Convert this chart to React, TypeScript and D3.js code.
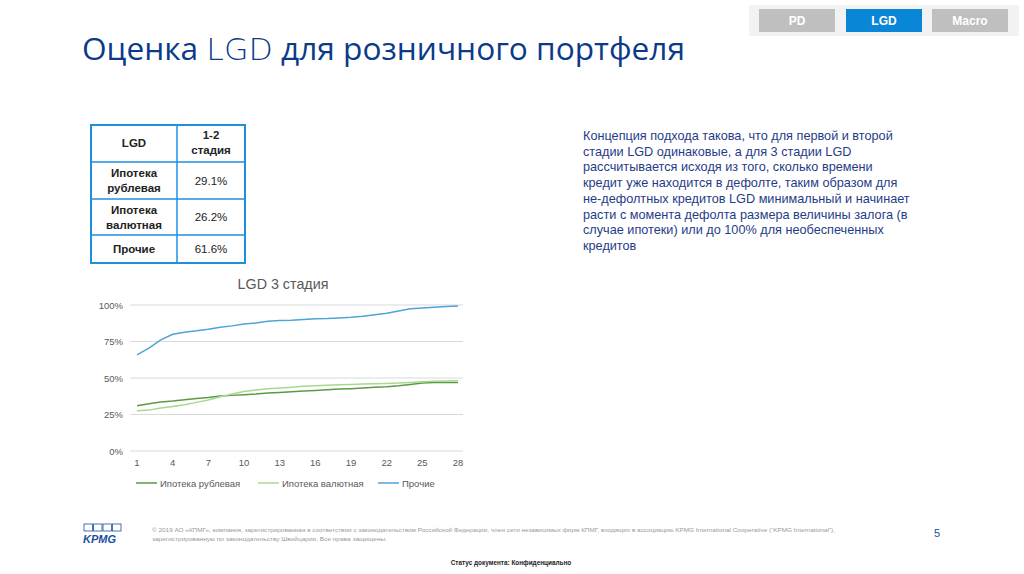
import React from "react";
import * as d3 from "d3";

const months = d3.range(1, 29);
const rubMortgage = [31.0, 32.3, 33.5, 34.2, 35.1, 36.0, 36.7, 37.6, 38.1, 38.5, 39.0, 39.7, 40.1, 40.6, 41.1, 41.5, 42.0, 42.4, 42.7, 43.1, 43.6, 44.0, 44.7, 45.6, 46.5, 47.0, 47.0, 47.0];
const fxMortgage = [27.5, 28.0, 29.4, 30.5, 31.7, 33.3, 34.9, 37.2, 39.0, 40.8, 41.7, 42.6, 43.1, 43.6, 44.3, 44.7, 45.0, 45.4, 45.6, 45.9, 46.1, 46.3, 46.5, 47.0, 47.5, 47.7, 47.9, 48.2];
const other = [65.9, 70.5, 76.1, 80.0, 81.4, 82.3, 83.4, 84.8, 85.7, 87.0, 87.7, 88.9, 89.3, 89.5, 90.0, 90.5, 90.7, 91.1, 91.6, 92.3, 93.4, 94.3, 95.9, 97.5, 98.0, 98.4, 98.9, 99.3];
const yTicks = [0, 25, 50, 75, 100];
const xTicks = [1, 4, 7, 10, 13, 16, 19, 22, 25, 28];
const seriesNames = ["Ипотека рублевая", "Ипотека валютная", "Прочие"];
const seriesColors = ["#5a9a46", "#a8d890", "#4ea3d8"];
const tableRows = [
  ["Ипотека|рублевая", "29.1%"],
  ["Ипотека|валютная", "26.2%"],
  ["Прочие", "61.6%"],
];
const paragraph = [
  "Концепция подхода такова, что для первой и второй",
  "стадии LGD одинаковые, а для 3 стадии LGD",
  "рассчитывается исходя из того, сколько времени",
  "кредит уже находится в дефолте, таким образом для",
  "не-дефолтных кредитов LGD минимальный и начинает",
  "расти с момента дефолта размера величины залога (в",
  "случае ипотеки) или до 100% для необеспеченных",
  "кредитов",
];
const tabs = ["PD", "LGD", "Macro"];

export default function App() {
  const x = d3.scaleLinear().domain([1, 28]).range([137, 458]);
  const y = d3.scaleLinear().domain([0, 100]).range([451, 305]);
  const line = d3
    .line<number>()
    .x((_, i) => x(months[i]))
    .y((d) => y(d));
  const allSeries = [rubMortgage, fxMortgage, other];
  const font = "Arial, 'Liberation Sans', sans-serif";
  const titleFont = "'Open Sans', 'Noto Sans', sans-serif";
  const tblX = [91, 177, 245];
  const tblY = [125, 162, 199, 235, 263];
  const tabX = [759, 846, 932];

  return (
    <svg
      width={1024}
      height={574}
      style={{ position: "absolute", left: 0, top: 0, background: "#fff" }}
      fontFamily={font}
    >
      <rect x={0} y={0} width={1024} height={574} fill="#fff" />
      {/* tabs */}
      <rect x={749} y={5} width={270} height={31} fill="#f2f2f2" />
      {tabs.map((t, i) => (
        <g key={t}>
          <rect x={tabX[i]} y={9} width={76} height={23} fill={i === 1 ? "#0a86d6" : "#bfbfbf"} />
          <text x={tabX[i] + 38} y={25} textAnchor="middle" fill="#fff" fontSize={12} fontWeight="bold">
            {t}
          </text>
        </g>
      ))}
      {/* title */}
      <text x={82} y={60} fill="#0c3a8a" fontFamily={titleFont} fontSize={31} textLength={603} lengthAdjust="spacingAndGlyphs">
        Оценка <tspan fontFamily="'DejaVu Sans', sans-serif" fontStretch="condensed" fontWeight="300">LGD</tspan> для розничного портфеля
      </text>

      {/* table */}
      <g>
        {tblY.slice(1, -1).map((yy) => (
          <line key={yy} x1={tblX[0]} x2={tblX[2]} y1={yy} y2={yy} stroke="#1f8fe0" strokeWidth={1.5} />
        ))}
        <line x1={tblX[1]} x2={tblX[1]} y1={tblY[0]} y2={tblY[4]} stroke="#1f8fe0" strokeWidth={1.5} />
        <rect x={tblX[0]} y={tblY[0]} width={tblX[2] - tblX[0]} height={tblY[4] - tblY[0]} fill="none" stroke="#1f8fe0" strokeWidth={2} />
        <text x={(tblX[0] + tblX[1]) / 2} y={147} textAnchor="middle" fontSize={11.5} fontWeight="bold" fill="#222">LGD</text>
        <text x={(tblX[1] + tblX[2]) / 2} y={139} textAnchor="middle" fontSize={11.5} fontWeight="bold" fill="#222">1-2</text>
        <text x={(tblX[1] + tblX[2]) / 2} y={154} textAnchor="middle" fontSize={11.5} fontWeight="bold" fill="#222">стадия</text>
        {tableRows.map((r, i) => {
          const top = tblY[i + 1];
          const bot = tblY[i + 2];
          const mid = (top + bot) / 2;
          const parts = r[0].split("|");
          return (
            <g key={i}>
              {parts.map((p, j) => (
                <text
                  key={j}
                  x={(tblX[0] + tblX[1]) / 2}
                  y={mid + 4 + (j - (parts.length - 1) / 2) * 15}
                  textAnchor="middle"
                  fontSize={11.5}
                  fontWeight="bold"
                  fill="#222"
                >
                  {p}
                </text>
              ))}
              <text x={(tblX[1] + tblX[2]) / 2} y={mid + 4} textAnchor="middle" fontSize={11.5} fill="#222">
                {r[1]}
              </text>
            </g>
          );
        })}
      </g>

      {/* paragraph */}
      {paragraph.map((p, i) => (
        <text key={i} x={583} y={140 + i * 15.7} fontSize={12.7} fill="#1f3c88">
          {p}
        </text>
      ))}

      {/* chart */}
      <text x={283} y={289} textAnchor="middle" fontSize={14.3} fill="#595959">LGD 3 стадия</text>
      {yTicks.map((t) => (
        <g key={t}>
          <line x1={130} x2={463} y1={y(t)} y2={y(t)} stroke="#d9d9d9" strokeWidth={1} />
          <text x={123} y={y(t) + 3.5} textAnchor="end" fontSize={9.5} fill="#595959">
            {t}%
          </text>
        </g>
      ))}
      {xTicks.map((t) => (
        <text key={t} x={x(t)} y={466} textAnchor="middle" fontSize={9.5} fill="#595959">
          {t}
        </text>
      ))}
      {allSeries.map((s, i) => (
        <path key={i} d={line(s) || ""} fill="none" stroke={seriesColors[i]} strokeWidth={1.5} />
      ))}
      {seriesNames.map((n, i) => {
        const lx = [136, 258, 378][i];
        return (
          <g key={n}>
            <line x1={lx} x2={lx + 21} y1={483} y2={483} stroke={seriesColors[i]} strokeWidth={1.5} />
            <text x={lx + 24} y={486.5} fontSize={9.5} fill="#595959">{n}</text>
          </g>
        );
      })}

      {/* footer */}
      <g>
        {[0, 1, 2, 3].map((i) => (
          <rect key={i} x={84 + i * 9.5} y={524} width={8.5} height={7} fill="none" stroke="#1a4fa0" strokeWidth={0.8} />
        ))}
        <text x={83} y={543} fontSize={11} fontWeight="bold" fontStyle="italic" fill="#1a4fa0">KPMG</text>
      </g>
      <text x={152} y={532} fontSize={5.5} fill="#999" textLength={683} lengthAdjust="spacingAndGlyphs">
        © 2019 АО «КПМГ», компания, зарегистрированная в соответствии с законодательством Российской Федерации, член сети независимых фирм КПМГ, входящих в ассоциацию KPMG International Cooperative (“KPMG International”),
      </text>
      <text x={152} y={541} fontSize={5.5} fill="#999" textLength={235} lengthAdjust="spacingAndGlyphs">
        зарегистрированную по законодательству Швейцарии. Все права защищены.
      </text>
      <text x={937} y={537} textAnchor="middle" fontSize={11} fill="#1a4fa0">5</text>
      <text x={511} y={565} textAnchor="middle" fontSize={6.4} fontWeight="bold" fill="#222">Статус документа: Конфиденциально</text>
    </svg>
  );
}
